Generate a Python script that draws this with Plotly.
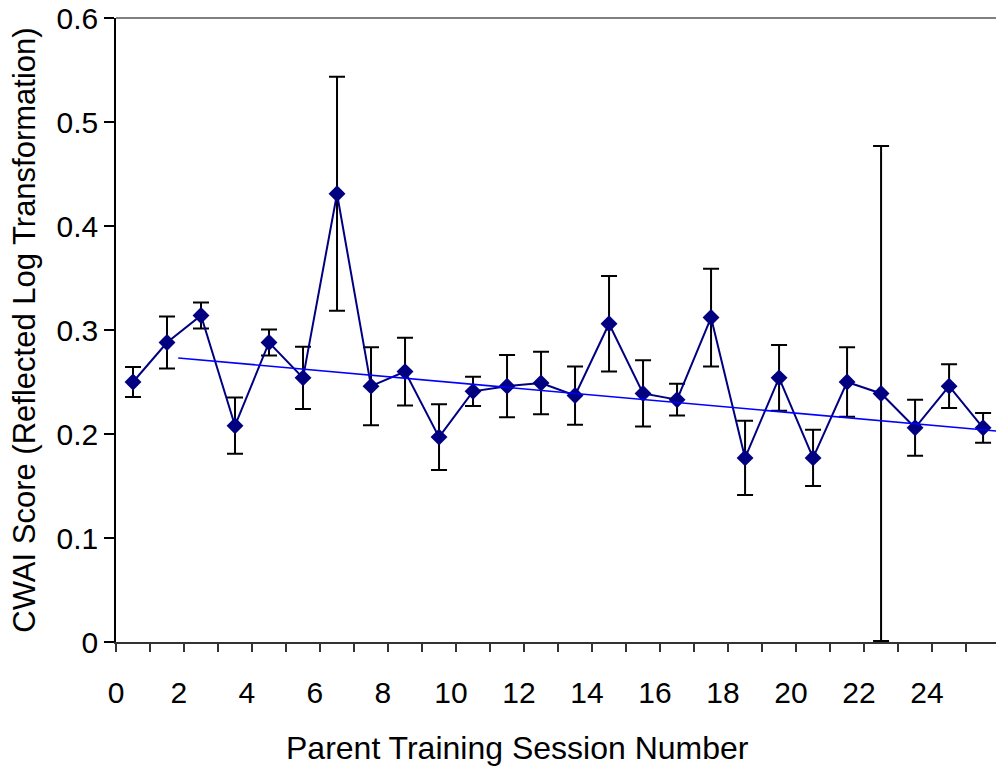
import plotly.graph_objects as go

# Session positions (categories drawn at half-unit positions on a 0-26 axis)
sessions = [i + 0.5 for i in range(26)]

cwai_mean = [0.250, 0.288, 0.314, 0.208, 0.288, 0.254, 0.431, 0.246, 0.260, 0.197,
             0.241, 0.246, 0.249, 0.237, 0.306, 0.239, 0.233, 0.312, 0.177, 0.254,
             0.177, 0.250, 0.239, 0.206, 0.246, 0.206]

cwai_err = [0.0145, 0.025, 0.0125, 0.027, 0.0125, 0.030, 0.1125, 0.0375, 0.0325, 0.0317,
            0.014, 0.030, 0.030, 0.028, 0.046, 0.0318, 0.0152, 0.047, 0.0357, 0.0316,
            0.027, 0.0335, 0.238, 0.027, 0.021, 0.0143]

trend_x = [1.83, 26.0]
trend_y = [0.2731, 0.2025]

x_tick_values = [0, 2, 4, 6, 8, 10, 12, 14, 16, 18, 20, 22, 24]
x_tick_text = [str(v) for v in x_tick_values]
y_tick_values = [0, 0.1, 0.2, 0.3, 0.4, 0.5, 0.6]
y_tick_text = ["0", "0.1", "0.2", "0.3", "0.4", "0.5", "0.6"]

FONT = "Liberation Sans, Arial, sans-serif"

fig = go.Figure()

fig.add_trace(go.Scatter(
    x=sessions, y=cwai_mean,
    mode="lines+markers",
    line=dict(color="#000080", width=2),
    marker=dict(symbol="diamond", size=13, color="#000080"),
    error_y=dict(type="data", array=cwai_err, visible=True,
                 color="black", thickness=2, width=8),
    showlegend=False,
))

fig.add_trace(go.Scatter(
    x=trend_x, y=trend_y,
    mode="lines",
    line=dict(color="#0000FF", width=1.6),
    showlegend=False,
))

fig.update_layout(
    width=996, height=767,
    margin=dict(l=116, r=0, t=18, b=125),
    paper_bgcolor="white", plot_bgcolor="white",
    font=dict(family=FONT, color="black"),
    xaxis=dict(
        range=[0, 25.88],
        tickmode="array",
        tickvals=[max(v - 0.15, 0) for v in x_tick_values],
        ticktext=x_tick_text,
        ticks="",
        ticklabelstandoff=23,
        tickfont=dict(size=30, family=FONT, color="black"),
        minor=dict(tickmode="linear", tick0=0, dtick=1, ticks="outside",
                   ticklen=8, tickwidth=1.5, tickcolor="#333333", showgrid=False),
        showline=True, linecolor="#333333", linewidth=2,
        showgrid=False, zeroline=False,
    ),
    yaxis=dict(
        range=[0, 0.6],
        tickmode="array",
        tickvals=y_tick_values,
        ticktext=y_tick_text,
        ticks="outside", ticklen=10, tickwidth=1.5, tickcolor="black",
        tickfont=dict(size=30, family=FONT, color="black"),
        showline=True, linecolor="black", linewidth=1.5,
        showgrid=False, zeroline=False,
        title=dict(text="CWAI Score (Reflected Log Transformation)",
                   font=dict(size=31, family=FONT, color="black"), standoff=12),
    ),
    annotations=[dict(text="Parent Training Session Number", xref="paper", yref="paper",
                      x=0.4557, y=-0.170, xanchor="center", yanchor="middle",
                      showarrow=False, font=dict(size=32, family=FONT, color="black"))],
    shapes=[dict(type="line", xref="paper", yref="paper", x0=0, x1=1, y0=1, y1=1,
                 line=dict(color="#808080", width=2))],
)

fig.write_html("out.html")
